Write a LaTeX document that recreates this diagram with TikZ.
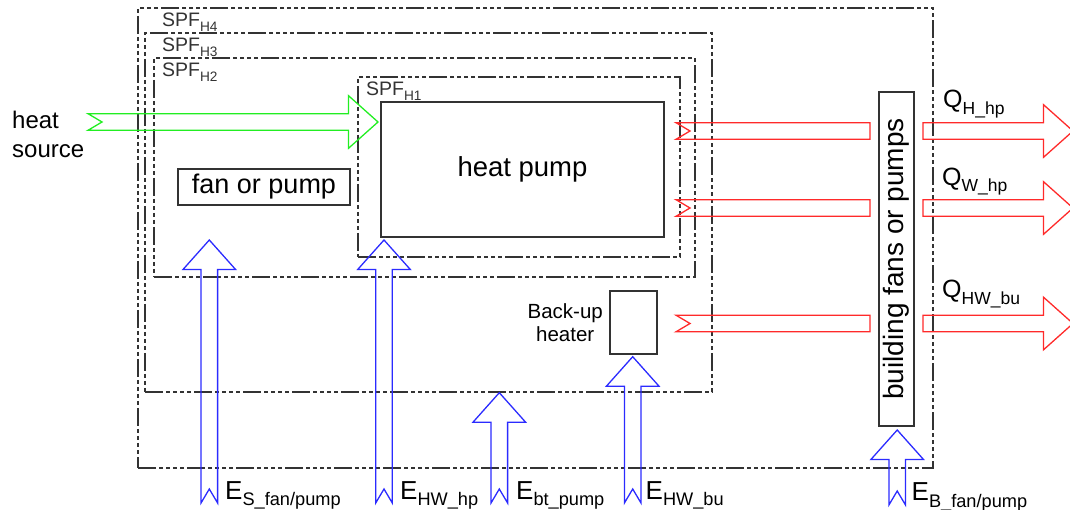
\documentclass[tikz,border=0pt]{standalone}
\usepackage{fontspec}
\setmainfont{Liberation Sans}
\usetikzlibrary{positioning,calc}
\definecolor{boxgrey}{HTML}{333333}
\definecolor{srcgreen}{HTML}{22EE22}
\definecolor{qred}{HTML}{FF2A2A}
\definecolor{eblue}{HTML}{2B2BFF}
\newcommand{\shaftw}{8.3}
\newcommand{\headw}{26.3}
\newcommand{\headl}{29.5}
\newcommand{\notchd}{14}
\newcommand{\lowidx}[1]{\raisebox{-.25em}{\scalebox{.7}{#1}}}
\tikzset{
  sysbox/.style ={rectangle, draw=boxgrey, line width=1.3pt, outer sep=0pt, inner sep=0pt,
                  dash pattern=on 18pt off 3pt on 4pt off 3pt on 4pt off 3pt on 4pt off 3pt on 4pt off 3pt},
  unit/.style   ={rectangle, draw=boxgrey, line width=1.5pt, outer sep=0pt, inner sep=0pt, text=black},
  spflbl/.style ={inner sep=0pt, text=boxgrey, font=\fontsize{19.5}{22}\selectfont},
  txt/.style    ={inner sep=0pt, text=black, font=\fontsize{24}{28.5}\selectfont},
  qlbl/.style   ={inner sep=0pt, text=black, font=\fontsize{25}{28}\selectfont},
  elbl/.style   ={inner sep=0pt, text=black, font=\fontsize{26}{28}\selectfont},
  flow/.style   ={line width=1.3pt, line join=miter},
  % notched tail and head, left to right
  hfat/.style={flow, to path={
    ($(\tikztostart)+(0,-\shaftw)$) -- ($(\tikztotarget)+(-\headl,-\shaftw)$)
    -- ($(\tikztotarget)+(-\headl,-\headw)$) -- (\tikztotarget)
    -- ($(\tikztotarget)+(-\headl,\headw)$) -- ($(\tikztotarget)+(-\headl,\shaftw)$)
    -- ($(\tikztostart)+(0,\shaftw)$) -- ($(\tikztostart)+(\notchd,0)$) -- cycle}},
  % notched tail, flat end
  hbar/.style={flow, to path={
    ($(\tikztostart)+(0,-\shaftw)$) -- ($(\tikztotarget)+(0,-\shaftw)$)
    -- ($(\tikztotarget)+(0,\shaftw)$) -- ($(\tikztostart)+(0,\shaftw)$)
    -- ($(\tikztostart)+(\notchd,0)$) -- cycle}},
  % flat tail and head
  hout/.style={flow, to path={
    ($(\tikztostart)+(0,-\shaftw)$) -- ($(\tikztotarget)+(-\headl,-\shaftw)$)
    -- ($(\tikztotarget)+(-\headl,-\headw)$) -- (\tikztotarget)
    -- ($(\tikztotarget)+(-\headl,\headw)$) -- ($(\tikztotarget)+(-\headl,\shaftw)$)
    -- ($(\tikztostart)+(0,\shaftw)$) -- cycle}},
  % notched tail and head, bottom to top
  vfat/.style={flow, to path={
    ($(\tikztostart)+(-\shaftw,0)$) -- ($(\tikztotarget)+(-\shaftw,\headl)$)
    -- ($(\tikztotarget)+(-\headw,\headl)$) -- (\tikztotarget)
    -- ($(\tikztotarget)+(\headw,\headl)$) -- ($(\tikztotarget)+(\shaftw,\headl)$)
    -- ($(\tikztostart)+(\shaftw,0)$) -- ($(\tikztostart)+(0,-\notchd)$) -- cycle}},
  heatflow/.style={hfat, draw=srcgreen},
  qin/.style     ={hbar, draw=qred},
  qout/.style    ={hout, draw=qred},
  eflow/.style   ={vfat, draw=eblue}
}

\begin{document}
\begin{tikzpicture}[x=1pt, y=-1pt]
  \useasboundingbox (0,0) rectangle (1070,510);
  % system boundaries
  \node[sysbox, minimum width=795, minimum height=460] (h4) at (535.5,238) {};
  \node[sysbox, minimum width=567, minimum height=359] (h3) at (428.5,212.5) {};
  \node[sysbox, minimum width=541, minimum height=219] (h2) at (424.5,167.5) {};
  \node[sysbox, minimum width=322, minimum height=180] (h1) at (519,167) {};
  \node[spflbl, anchor=base west] (h4lbl) at ($(h4.north west)+(24,18.5)$) {SPF\lowidx{H4}};
  \node[spflbl, anchor=base west] (h3lbl) at ($(h3.north west)+(17,18.5)$) {SPF\lowidx{H3}};
  \node[spflbl, anchor=base west] (h2lbl) at ($(h2.north west)+(8,18.5)$) {SPF\lowidx{H2}};
  \node[spflbl, anchor=base west] (h1lbl) at ($(h1.north west)+(8,18.5)$) {SPF\lowidx{H1}};
  % components
  \node[unit, minimum width=283, minimum height=135, font=\fontsize{27.5}{30}\selectfont] (hp) at (522.5,169.5) {heat pump};
  \node[unit, minimum width=172, minimum height=36, font=\fontsize{27}{30}\selectfont] (fan) at (264,187) {fan or pump};
  \node[unit, minimum width=47, minimum height=63] (bu) at (633.5,322.5) {};
  \node[txt, left=7pt of bu, align=center, font=\fontsize{20.5}{23}\selectfont] (bulbl) {Back-up\\heater};
  \node[unit, minimum width=35, minimum height=334, font=\fontsize{28}{30}\selectfont] (bld) at (896.5,259)
    {\rotatebox{90}{building fans or pumps}};
  \node[txt, anchor=north west, align=left] (src) at (12,111) {heat\\source};
  % heat source
  \coordinate (src0) at (88,122);
  \coordinate (src1) at (378,122);
  \draw[heatflow] (src0) to (src1);
  % heat delivered
  \coordinate (qh0) at (676,131);   \coordinate (qh1) at (870,131);
  \coordinate (qw0) at (676,208);   \coordinate (qw1) at (870,208);
  \coordinate (qb0) at (676,323.5); \coordinate (qb1) at (870,323.5);
  \draw[qin] (qh0) to (qh1);
  \draw[qin] (qw0) to (qw1);
  \draw[qin] (qb0) to (qb1);
  \coordinate (qh2) at (923,131);   \coordinate (qh3) at (1073,131);
  \coordinate (qw2) at (923,208);   \coordinate (qw3) at (1073,208);
  \coordinate (qb2) at (923,323.5); \coordinate (qb3) at (1073,323.5);
  \draw[qout] (qh2) to (qh3);
  \draw[qout] (qw2) to (qw3);
  \draw[qout] (qb2) to (qb3);
  \node[qlbl, anchor=base west] (qhlbl) at (943,108) {Q\lowidx{H\_hp}};
  \node[qlbl, anchor=base west] (qwlbl) at (942,185.5) {Q\lowidx{W\_hp}};
  \node[qlbl, anchor=base west] (qblbl) at (942,298) {Q\lowidx{HW\_bu}};
  % electricity
  \coordinate (es0) at (209.3,503);  \coordinate (es1) at (209.3,240);
  \coordinate (ehp0) at (384,503);   \coordinate (ehp1) at (384,240);
  \coordinate (ebt0) at (499.3,503); \coordinate (ebt1) at (499.3,392.7);
  \coordinate (ebu0) at (632.7,503); \coordinate (ebu1) at (632.7,356.7);
  \coordinate (eb0) at (897.2,505);  \coordinate (eb1) at (897.2,430);
  \draw[eflow] (es0) to (es1);
  \draw[eflow] (ehp0) to (ehp1);
  \draw[eflow] (ebt0) to (ebt1);
  \draw[eflow] (ebu0) to (ebu1);
  \draw[eflow] (eb0) to (eb1);
  \node[elbl, anchor=base west] (eslbl) at (225,499.3) {E\lowidx{S\_fan/pump}};
  \node[elbl, anchor=base west] (ehplbl) at (400,499.3) {E\lowidx{HW\_hp}};
  \node[elbl, anchor=base west] (ebtlbl) at (516,499.3) {E\lowidx{bt\_pump}};
  \node[elbl, anchor=base west] (ebulbl) at (645.5,499.3) {E\lowidx{HW\_bu}};
  \node[elbl, anchor=base west] (eblbl) at (911.5,500.5) {E\lowidx{B\_fan/pump}};
\end{tikzpicture}
\end{document}
